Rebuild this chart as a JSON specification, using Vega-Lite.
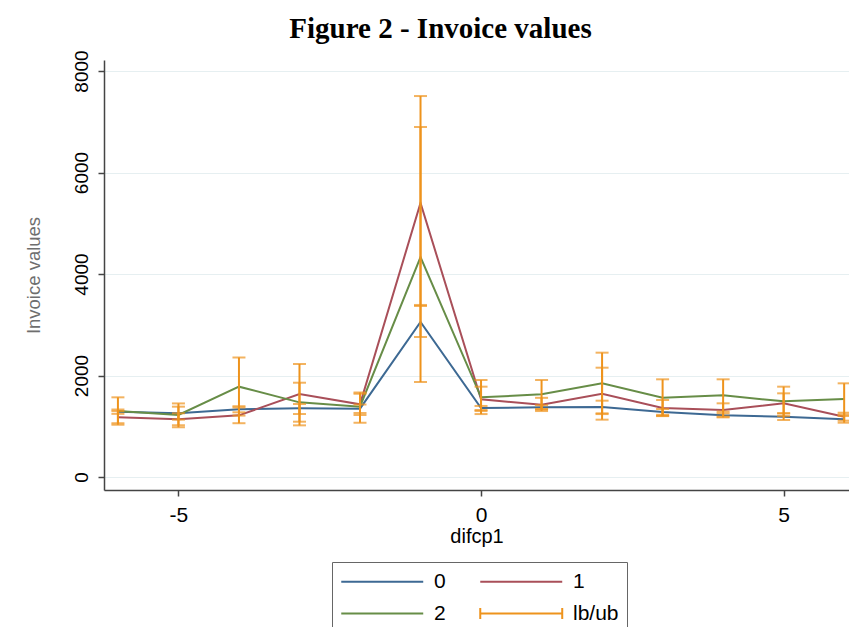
{
  "$schema": "https://vega.github.io/schema/vega-lite/v6.json",
  "autosize": "none",
  "width": 745,
  "height": 430,
  "padding": {"left": 104, "top": 60, "right": 0, "bottom": 137},
  "background": "white",
  "title": {"text": "Figure 2 - Invoice values", "font": "Liberation Serif", "fontSize": 29, "fontWeight": "bold", "color": "black", "anchor": "middle", "frame": "group", "dx": -36, "offset": 6},
  "config": {
    "view": {"stroke": null},
    "axis": {"labelFont": "Liberation Sans", "titleFont": "Liberation Sans", "labelColor": "black", "domainColor": "#444", "domainWidth": 1.5, "tickColor": "#444", "tickWidth": 1.5, "tickSize": 6, "gridColor": "#e6eff1", "gridWidth": 1}
  },
  "data": {"values": [
    {"k": -6, "s": "0", "v": 1287, "lb": 1245, "ub": 1330},
    {"k": -6, "s": "1", "v": 1176, "lb": 1060, "ub": 1300},
    {"k": -6, "s": "2", "v": 1300, "lb": 1030, "ub": 1570},
    {"k": -5, "s": "0", "v": 1255, "lb": 1130, "ub": 1386},
    {"k": -5, "s": "1", "v": 1136, "lb": 1020, "ub": 1255},
    {"k": -5, "s": "2", "v": 1222, "lb": 980, "ub": 1450},
    {"k": -4, "s": "0", "v": 1333, "lb": 1275, "ub": 1395},
    {"k": -4, "s": "1", "v": 1215, "lb": 1060, "ub": 1370},
    {"k": -4, "s": "2", "v": 1780, "lb": 1210, "ub": 2355},
    {"k": -3, "s": "0", "v": 1353, "lb": 1241, "ub": 1438},
    {"k": -3, "s": "1", "v": 1635, "lb": 1018, "ub": 2227},
    {"k": -3, "s": "2", "v": 1471, "lb": 1090, "ub": 1858},
    {"k": -2, "s": "0", "v": 1347, "lb": 1260, "ub": 1430},
    {"k": -2, "s": "1", "v": 1432, "lb": 1220, "ub": 1640},
    {"k": -2, "s": "2", "v": 1386, "lb": 1070, "ub": 1665},
    {"k": -1, "s": "0", "v": 3054, "lb": 2759, "ub": 3370},
    {"k": -1, "s": "1", "v": 5399, "lb": 3390, "ub": 7507},
    {"k": -1, "s": "2", "v": 4335, "lb": 1872, "ub": 6897},
    {"k": 0, "s": "0", "v": 1360, "lb": 1320, "ub": 1400},
    {"k": 0, "s": "1", "v": 1530, "lb": 1300, "ub": 1780},
    {"k": 0, "s": "2", "v": 1570, "lb": 1240, "ub": 1911},
    {"k": 1, "s": "0", "v": 1373, "lb": 1330, "ub": 1415},
    {"k": 1, "s": "1", "v": 1425, "lb": 1300, "ub": 1560},
    {"k": 1, "s": "2", "v": 1629, "lb": 1340, "ub": 1911},
    {"k": 2, "s": "0", "v": 1379, "lb": 1255, "ub": 1504},
    {"k": 2, "s": "1", "v": 1642, "lb": 1130, "ub": 2154},
    {"k": 2, "s": "2", "v": 1846, "lb": 1240, "ub": 2450},
    {"k": 3, "s": "0", "v": 1281, "lb": 1225, "ub": 1340},
    {"k": 3, "s": "1", "v": 1360, "lb": 1205, "ub": 1517},
    {"k": 3, "s": "2", "v": 1563, "lb": 1200, "ub": 1925},
    {"k": 4, "s": "0", "v": 1215, "lb": 1175, "ub": 1255},
    {"k": 4, "s": "1", "v": 1320, "lb": 1190, "ub": 1452},
    {"k": 4, "s": "2", "v": 1609, "lb": 1290, "ub": 1925},
    {"k": 5, "s": "0", "v": 1189, "lb": 1123, "ub": 1255},
    {"k": 5, "s": "1", "v": 1452, "lb": 1255, "ub": 1649},
    {"k": 5, "s": "2", "v": 1491, "lb": 1200, "ub": 1780},
    {"k": 6, "s": "0", "v": 1136, "lb": 1070, "ub": 1202},
    {"k": 6, "s": "1", "v": 1189, "lb": 1110, "ub": 1267},
    {"k": 6, "s": "2", "v": 1537, "lb": 1230, "ub": 1846}
  ]},
  "encoding": {
    "x": {"field": "k", "type": "quantitative", "scale": {"domain": [-6.23, 6.08], "nice": false, "zero": false},
      "axis": {"values": [-5, 0, 5], "labelExpr": "'' + datum.value", "grid": false, "title": "difcp1", "labelFontSize": 21, "titleFontSize": 20, "titleFontWeight": "normal", "titleColor": "black", "labelPadding": 8, "titlePadding": 1, "labelFlush": false}}
  },
  "layer": [
    {
      "mark": {"type": "line", "strokeWidth": 2},
      "encoding": {
        "y": {"field": "v", "type": "quantitative", "scale": {"domain": [-256, 8217], "nice": false, "zero": false},
          "axis": {"values": [0, 2000, 4000, 6000, 8000], "labelExpr": "'' + datum.value", "title": "Invoice values", "titleFontSize": 18.5, "titleFontWeight": "normal", "titleColor": "#6e6e6e", "labelFontSize": 19, "labelAngle": 270, "labelAlign": "center", "labelBaseline": "bottom", "labelPadding": 7, "titlePadding": 29}},
        "color": {"field": "s", "type": "nominal",
          "scale": {"domain": ["0", "1", "2", "lb/ub"], "range": ["#3d6993", "#a94f59", "#678d47", "#ee931c"]},
          "legend": {"title": null, "orient": "none", "legendX": 228, "legendY": 502, "direction": "horizontal", "columns": 2,
            "symbolType": "stroke", "symbolSize": 420, "symbolStrokeWidth": 2, "labelFont": "Liberation Sans", "labelFontSize": 21, "labelColor": "black", "labelOffset": 71,
            "columnPadding": 30, "rowPadding": 10, "strokeColor": "#666", "fillColor": "white", "padding": 8,
            "encode": {"symbols": {"update": {"shape": {"signal": "datum.value === 'lb/ub' ? 'M-1,-0.54L-1,0.54M-1,0L7,0M7,-0.54L7,0.54' : 'M-1,0L7,0'"}}}}}}
      }
    },
    {
      "mark": {"type": "rule", "strokeWidth": 2},
      "encoding": {
        "y": {"field": "lb", "type": "quantitative"},
        "y2": {"field": "ub"},
        "color": {"datum": "lb/ub", "type": "nominal"}
      }
    },
    {
      "mark": {"type": "tick", "orient": "horizontal", "size": 13, "thickness": 2},
      "encoding": {
        "y": {"field": "lb", "type": "quantitative"},
        "color": {"datum": "lb/ub", "type": "nominal"}
      }
    },
    {
      "mark": {"type": "tick", "orient": "horizontal", "size": 13, "thickness": 2},
      "encoding": {
        "y": {"field": "ub", "type": "quantitative"},
        "color": {"datum": "lb/ub", "type": "nominal"}
      }
    }
  ]
}
